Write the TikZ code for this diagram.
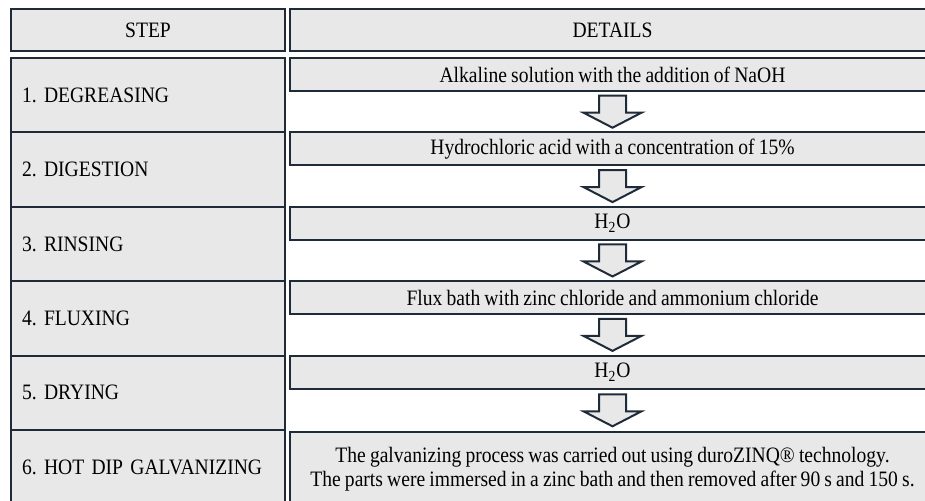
\documentclass[tikz,border=0pt]{standalone}
\usepackage{fontspec}
\setmainfont{Liberation Serif}[FakeStretch=0.89, WordSpace=0.85]
\usetikzlibrary{
  calc,
}
\definecolor{boxline}{HTML}{1F2B38}
\definecolor{boxfill}{HTML}{E8E8E8}
\tikzset{
  box/.style = {
      rectangle,
      draw=boxline,
      fill=boxfill,
      line width=1pt,
      inner sep=0pt, outer sep=0pt,
      font=\fontsize{11}{12}\selectfont\frenchspacing,
    },
  head/.style = {
      box,
      minimum height=21pt,
    },
  stepbox/.style = {
      box,
      minimum width=137pt,
      minimum height=37.2pt,
      inner xsep=5.5pt,
      text width=126pt,
      align=left,
    },
  detailbox/.style = {
      box,
      minimum width=322.5pt,
      minimum height=16.5pt,
      align=center,
    },
  flowarrow/.pic = {
      \draw[draw=boxline, fill=boxfill, line width=1pt, line join=miter]
        (-13.5,16) -- (13.5,16) -- (13.5,-1) -- (29,-1) -- (0,-16)
        -- (-29,-1) -- (-13.5,-1) -- cycle;
    },
}

\begin{document}
\begin{tikzpicture}[x=0.5pt, y=0.5pt]
    \useasboundingbox (0,0) rectangle (925,-501);
    \clip (0,0) rectangle (925,-501);

    \node[head, minimum width=137pt]   (hstep)   at (148,-30)   {STEP};
    \node[head, minimum width=322.5pt] (hdetail) at (612.5,-30) {DETAILS};

    \node[stepbox] (s1) at (148,-95.2)  {1. DEGREASING};
    \node[stepbox] (s2) at (148,-169.6) {2. DIGESTION};
    \node[stepbox] (s3) at (148,-244)   {3. RINSING};
    \node[stepbox] (s4) at (148,-318.4) {4. FLUXING};
    \node[stepbox] (s5) at (148,-392.8) {5. DRYING};
    \node[stepbox] (s6) at (148,-467.2) {6. HOT DIP GALVANIZING};

    \node[detailbox] (d1) at (612.5,-74.5)  {Alkaline solution with the addition of NaOH};
    \node[detailbox] (d2) at (612.5,-148.9) {Hydrochloric acid with a concentration of 15\%};
    \node[detailbox] (d3) at (612.5,-223.3) {H\textsubscript{2}O};
    \node[detailbox] (d4) at (612.5,-297.7) {Flux bath with zinc chloride and ammonium chloride};
    \node[detailbox] (d5) at (612.5,-372.1) {H\textsubscript{2}O};
    \node[detailbox, minimum height=37pt] (d6) at (612.5,-469)
      {The galvanizing process was carried out using duroZINQ® technology.\\
       The parts were immersed in a zinc bath and then removed after 90 s and 150 s.};

    \pic at ($(d1.south)!.5!(d2.north)$) {flowarrow};
    \pic at ($(d2.south)!.5!(d3.north)$) {flowarrow};
    \pic at ($(d3.south)!.5!(d4.north)$) {flowarrow};
    \pic at ($(d4.south)!.5!(d5.north)$) {flowarrow};
    \pic at ($(d5.south)!.5!(d6.north)$) {flowarrow};
  \end{tikzpicture}
\end{document}
